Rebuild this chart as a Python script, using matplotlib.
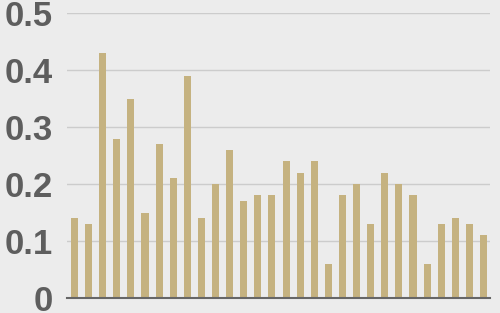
import matplotlib.pyplot as plt

# bar heights, left to right
values = [0.14, 0.13, 0.43, 0.28, 0.35, 0.15, 0.27, 0.21, 0.39, 0.14,
          0.20, 0.26, 0.17, 0.18, 0.18, 0.24, 0.22, 0.24, 0.06, 0.18,
          0.20, 0.13, 0.22, 0.20, 0.18, 0.06, 0.13, 0.14, 0.13, 0.11]
yticks = [0, 0.1, 0.2, 0.3, 0.4, 0.5]
ytick_labels = ['0', '0.1', '0.2', '0.3', '0.4', '0.5']

fig = plt.figure(figsize=(5, 3.13), dpi=100, facecolor='#ececec')
ax = fig.add_axes([0.134, 0.048, 0.846, 0.9095], facecolor='#ececec')

x = range(len(values))
ax.bar(x, values, width=0.5, color='#c5b280', zorder=3)

ax.set_xlim(-0.53, len(values) - 0.54)
ax.set_ylim(0, 0.5)
ax.set_yticks(yticks)
ax.set_yticklabels(ytick_labels, fontsize=25, fontweight='bold',
                   color='#5e5e5e', family='Liberation Sans')
ax.set_xticks([])
ax.tick_params(axis='y', length=0, pad=10)

# horizontal gridlines
ax.grid(axis='y', color='#cccccc', linewidth=1, zorder=0)
for s in ['top', 'right', 'left']:
    ax.spines[s].set_visible(False)
ax.spines['bottom'].set_color('#666666')
ax.spines['bottom'].set_linewidth(1.5)
ax.spines['bottom'].set_zorder(4)

fig.savefig('out.png', dpi=100, facecolor='#ececec')
